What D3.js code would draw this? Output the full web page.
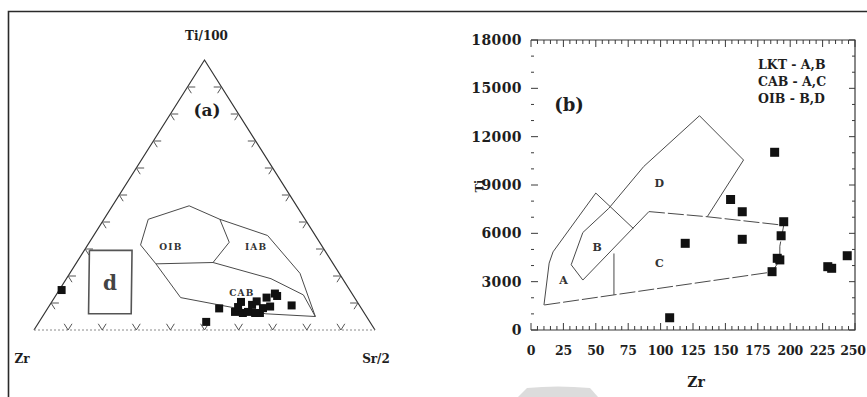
<!DOCTYPE html>
<html><head><meta charset="utf-8">
<script src="https://cdn.jsdelivr.net/npm/d3@7/dist/d3.min.js"></script>
<style>body{margin:0;background:#fff}svg{display:block}text{font-family:"DejaVu Serif","Liberation Serif",serif;font-weight:bold;fill:#1e1e1e}</style>
</head><body>
<svg id="c" width="867" height="397"></svg>
<script>
// ---------- (a) ternary diagram: [Zr, Ti/100, Sr/2] in % ----------
const ternaryCorners = ["Zr", "Ti/100", "Sr/2"];
const ternaryTicks = [10, 20, 30, 40, 50, 60, 70, 80, 90];
const oibField = [[53,31.5,15.5],[46,41,13],[31.5,46,22.5],[25,41,34],[26.5,32.5,41],[35,25,40],[52,24.5,23.5],[53,31.5,15.5]];
const iabOuter = [[25,41,34],[14,35,51],[11.5,21,67.5],[15,5,80]];
const cabTop = [[35,25,40],[21,19,60],[14.5,13,72.5],[15,5,80]];
const cabBottom = [[52,24.5,23.5],[51,12,37],[29,6,65],[15,5,80]];
const boxD = [[69,29.5,1.5],[56.5,29.5,14],[68.5,6,25.5],[81,6,13],[69,29.5,1.5]];
const ternaryLabels = ["OIB", "IAB", "CAB", "d"];
const ternaryLabelPos = [[44.5,30.7,24.8],[19.5,30.7,49.8],[32.2,13.7,54.1],[69,17.4,13.6]];
const ternarySamples = [
  [84.5,14.8,0.7],[48,3,49],[41.7,8,50.3],[37.7,6.7,55.6],[34.1,10.4,55.5],[35.6,6.3,58.1],
  [33.9,6.7,59.4],[31.4,9.3,59.3],[29.4,10.6,60],[30.6,6.3,63.1],[28.8,8.1,63.1],[25.8,12,62.2],
  [26.4,8.7,64.9],[22.6,13.5,63.9],[22.4,12.6,65],[19.9,9.1,71],[35.9,8.5,55.6],[32,6.3,61.7]
];

// ---------- (b) Ti vs Zr ----------
const xTicks = [0,25,50,75,100,125,150,175,200,225,250];
const yTicks = [0,3000,6000,9000,12000,15000,18000];
const fieldAOuter = [[10,1550],[14,4150],[17,4850],[50,8500],[79,6300]];
const fieldBLeft = [[40,3100],[31,4050],[40,6050],[60,7550]];
const fieldBCLine = [[91,7350],[40,3100]];
const fieldC = [[91,7350],[136,7030],[195,6500],[192,5200],[192,4350],[186,3600],[10,1550]];
const fieldCDivider = [[64,2180],[64,4750]];
const fieldD = [[60,7550],[87,10150],[130,13300],[164,10550],[136,7030]];
const fieldLetters = ["A","B","C","D"];
const fieldLetterPos = [[25,3100],[51,5170],[99,4140],[99,9100]];
const legendLines = ["LKT - A,B", "CAB - A,C", "OIB - B,D"];
const sampleZr = [188,154,163,195,193,163,119,190,192,186,229,232,244,107];
const sampleTi = [11030,8100,7340,6720,5850,5630,5380,4450,4350,3620,3930,3830,4610,760];

const svg = d3.select("#c");
const ink = "#4a4a4a";

// frame
svg.append("path").attr("d","M8.5,398 V11.5 H868").attr("fill","none").attr("stroke","#2a2a2a").attr("stroke-width",1.6);
// faint watermark
svg.append("path").attr("d","M518,397 L527,388 Q557,385 590,388 L598,397 Z").attr("fill","#dcdcdc");

// ===== ternary =====
const tX = d3.scaleLinear().domain([0,100]).range([34,375]);
const tY = d3.scaleLinear().domain([0,100]).range([330,60]);
const proj = p => [tX(p[2] + p[1]/2), tY(p[1])];
const tline = d3.line().x(d => proj(d)[0]).y(d => proj(d)[1]);
const gA = svg.append("g");

// edges
gA.append("path").attr("d", tline([[100,0,0],[0,100,0],[0,0,100]])).attr("fill","none").attr("stroke","#333").attr("stroke-width",1.2);
gA.append("path").attr("d", tline([[100,0,0],[0,0,100]])).attr("fill","none").attr("stroke","#8a8a8a").attr("stroke-width",1).attr("stroke-dasharray","2,2");

// chevron ticks
const d = 2.3;
ternaryTicks.forEach(f => {
  const bottom = [100-f,0,f], left = [100-f,f,0], right = [0,f,100-f];
  const sets = [
    [bottom, [bottom[0]-d,bottom[1]+d,bottom[2]], [bottom[0],bottom[1]+d,bottom[2]-d]],
    [left, [left[0]-d,left[1],left[2]+d], [left[0],left[1]-d,left[2]+d]],
    [right, [right[0]+d,right[1],right[2]-d], [right[0]+d,right[1]-d,right[2]]]
  ];
  sets.forEach(([p,a,b]) => {
    gA.append("path").attr("d", tline([a,p,b])).attr("fill","none").attr("stroke","#555").attr("stroke-width",1);
  });
});

// fields
[oibField, iabOuter, cabTop, cabBottom].forEach(f => {
  gA.append("path").attr("d", tline(f)).attr("fill","none").attr("stroke",ink).attr("stroke-width",1);
});
gA.append("path").attr("d", tline(boxD)).attr("fill","none").attr("stroke","#555").attr("stroke-width",1.6);

ternaryLabels.forEach((t,i) => {
  const p = proj(ternaryLabelPos[i]);
  gA.append("text").attr("x",p[0]).attr("y",p[1]).attr("dy","0.35em")
    .attr("text-anchor","middle")
    .attr("font-size", t === "d" ? 20 : 9).attr("font-weight", t === "d" ? "normal" : "bold")
    .attr("letter-spacing", t === "d" ? 0 : 1.2)
    .style("fill", t === "d" ? "#444" : "#333").text(t);
});

// samples
gA.selectAll("rect.s").data(ternarySamples).enter().append("rect")
  .attr("x", p => proj(p)[0]-4).attr("y", p => proj(p)[1]-4).attr("width",8).attr("height",8).attr("fill","#111");

// corner labels
const cornerPos = [[100,0,0],[0,100,0],[0,0,100]];
const cornerOffsets = [[-12,29],[2,-24],[1,29]];
ternaryCorners.forEach((c,i) => {
  const p = proj(cornerPos[i]);
  gA.append("text").attr("x",p[0]+cornerOffsets[i][0]).attr("y",p[1]+cornerOffsets[i][1]).attr("dy","0.35em")
    .attr("text-anchor","middle").attr("font-size",12).text(c);
});
gA.append("text").attr("x",207).attr("y",110).attr("dy","0.35em").attr("text-anchor","middle").attr("font-size",17).text("(a)");

// ===== Ti vs Zr =====
const x = d3.scaleLinear().domain([0,250]).range([531,855]);
const y = d3.scaleLinear().domain([0,18000]).range([330,40]);
const gB = svg.append("g");
const frame = "#3a3a3a";

// frame lines (no left line)
gB.append("path").attr("d", `M${x(0)},${y(18000)} H${x(250)} V${y(0)} H${x(0)}`).attr("fill","none").attr("stroke",frame).attr("stroke-width",1.2);

const minorX = d3.range(0,251,5);
const minorY = d3.range(0,18001,1000);
// top & bottom ticks
minorX.forEach(v => {
  const major = v % 25 === 0;
  gB.append("line").attr("x1",x(v)).attr("x2",x(v)).attr("y1",y(18000)).attr("y2",y(18000)+(major?7:4)).attr("stroke",frame).attr("stroke-width",1);
  gB.append("line").attr("x1",x(v)).attr("x2",x(v)).attr("y1",y(0)).attr("y2",y(0)-(major?7:4)).attr("stroke",frame).attr("stroke-width",1);
});
// left & right ticks
minorY.forEach(v => {
  const major = v % 3000 === 0;
  gB.append("line").attr("x1",x(0)).attr("x2",x(0)+(major?7:3)).attr("y1",y(v)).attr("y2",y(v)).attr("stroke",frame).attr("stroke-width",1);
  gB.append("line").attr("x1",x(250)).attr("x2",x(250)-(major?6:3)).attr("y1",y(v)).attr("y2",y(v)).attr("stroke",frame).attr("stroke-width",1);
});
// tick labels
yTicks.forEach(v => {
  gB.append("text").attr("x",522).attr("y",y(v)).attr("dy","0.36em").attr("text-anchor","end")
    .attr("font-size",14).attr("letter-spacing",0.4).text(v);
});
xTicks.forEach((v,i) => {
  gB.append("text").attr("x",x(v) - (i === xTicks.length-1 ? 2 : 0)).attr("y",350).attr("dy","0.36em").attr("text-anchor","middle")
    .attr("font-size",12.5).attr("letter-spacing",-0.2).text(v);
});
gB.append("text").attr("x",696).attr("y",382).attr("dy","0.36em").attr("text-anchor","middle").attr("font-size",14).text("Zr");
gB.append("text").attr("transform","translate(479,186) rotate(-90)").attr("dy","0.36em").attr("text-anchor","middle").attr("font-size",11).text("Ti");

// fields
const line = d3.line().x(d => x(d[0])).y(d => y(d[1]));
[fieldAOuter, fieldBLeft, fieldBCLine, fieldCDivider, fieldD].forEach(f => {
  gB.append("path").attr("d", line(f)).attr("fill","none").attr("stroke",ink).attr("stroke-width",1);
});
gB.append("path").attr("d", line(fieldC)).attr("fill","none").attr("stroke",ink).attr("stroke-width",1).attr("stroke-dasharray","16,3");

fieldLetters.forEach((t,i) => {
  gB.append("text").attr("x",x(fieldLetterPos[i][0])).attr("y",y(fieldLetterPos[i][1])).attr("dy","0.35em")
    .attr("text-anchor","middle").attr("font-size",11).style("fill","#333").text(t);
});

// legend
legendLines.forEach((t,i) => {
  gB.append("text").attr("x",758).attr("y",64 + i*17).attr("dy","0.36em").attr("font-size",12.5).text(t);
});
gB.append("text").attr("x",569).attr("y",105).attr("dy","0.36em").attr("text-anchor","middle").attr("font-size",18).text("(b)");

// samples
gB.selectAll("rect.s").data(sampleZr).enter().append("rect")
  .attr("x",(v,i) => x(v)-4.5).attr("y",(v,i) => y(sampleTi[i])-4.5).attr("width",9).attr("height",9).attr("fill","#111");
</script>
</body></html>
